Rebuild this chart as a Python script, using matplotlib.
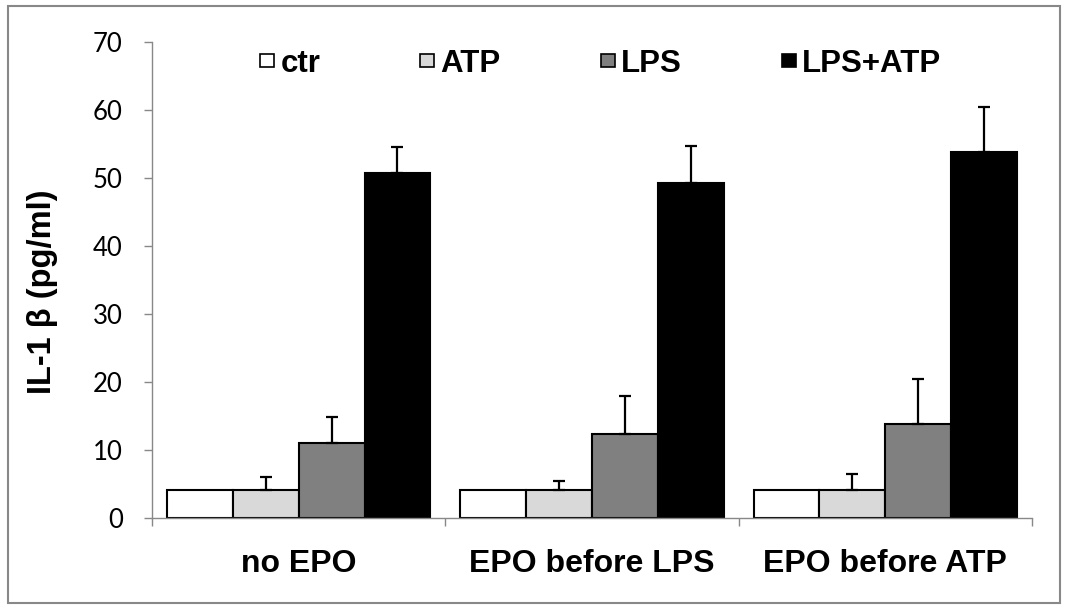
import matplotlib.pyplot as plt
import matplotlib.patches as mpatches
import numpy as np

# IL-1 beta release per treatment group
groups = ['no EPO', 'EPO before LPS', 'EPO before ATP']
series = ['ctr', 'ATP', 'LPS', 'LPS+ATP']
ctr = [4.1, 4.1, 4.1]
atp = [4.1, 4.1, 4.1]
lps = [11.1, 12.3, 13.8]
lps_atp = [50.8, 49.2, 53.8]
ctr_err = [0, 0, 0]
atp_err = [2.0, 1.4, 2.4]
lps_err = [3.7, 5.6, 6.7]
lps_atp_err = [3.7, 5.5, 6.7]

values = [ctr, atp, lps, lps_atp]
errors = [ctr_err, atp_err, lps_err, lps_atp_err]
colors = ['white', '#d9d9d9', '#808080', 'black']

fig = plt.figure(figsize=(10.66, 6.08), dpi=100)
ax = fig.add_axes([0.1426, 0.148, 0.8255, 0.783])

x = np.arange(len(groups))
w = 0.2245
for i in range(4):
    pos = x + (i - 1.5) * w
    ax.bar(pos, values[i], w, color=colors[i], edgecolor='black',
           linewidth=1.5, label=series[i], zorder=2)
    err = np.array(errors[i])
    if err.any():
        ax.errorbar(pos, values[i], yerr=[np.zeros(3), err], fmt='none',
                    ecolor='black', elinewidth=1.6, capsize=4.5,
                    capthick=1.6, zorder=3)

ax.set_xlim(-0.5, 2.5)
ax.set_ylim(0, 70)
ax.set_yticks(range(0, 71, 10))
ax.set_xticks(x)
ax.set_xticklabels(groups, fontname='Liberation Sans', fontweight='bold',
                   fontsize=23)
ax.set_xticks([-0.5, 0.5, 1.5, 2.5], minor=True)
ax.tick_params(axis='x', which='major', length=0, pad=22)
ax.tick_params(axis='x', which='minor', length=6, direction='out',
               color='#888888', width=1)
ax.tick_params(axis='y', length=6, color='#888888', width=1, pad=15,
               labelsize=18.5)
for lab in ax.get_yticklabels():
    lab.set_fontname('Lato')

for s in ['top', 'right']:
    ax.spines[s].set_visible(False)
for s in ['left', 'bottom']:
    ax.spines[s].set_color('#888888')
    ax.spines[s].set_linewidth(1)

ax.set_ylabel('IL-1 \u03b2 (pg/ml)', fontname='Liberation Sans',
              fontweight='bold', fontsize=23.5)
ax.yaxis.set_label_coords(-0.107, 0.475)

leg = ax.legend(loc='upper center', bbox_to_anchor=(0.51, 1.045), ncol=4,
                frameon=False, handlelength=0.45, handleheight=0.3,
                handletextpad=0.2, columnspacing=3.2,
                prop={'family': 'Liberation Sans', 'weight': 'bold',
                      'size': 22.5})
for h in leg.legend_handles:
    h.set_linewidth(1.2)

# grey frame around the chart area
fig.patches.append(mpatches.Rectangle((8 / 1066, 5 / 608), 1052 / 1066,
                                      597 / 608, transform=fig.transFigure,
                                      fill=False, edgecolor='#888888',
                                      linewidth=1.5))

fig.savefig('out.png', dpi=100)
